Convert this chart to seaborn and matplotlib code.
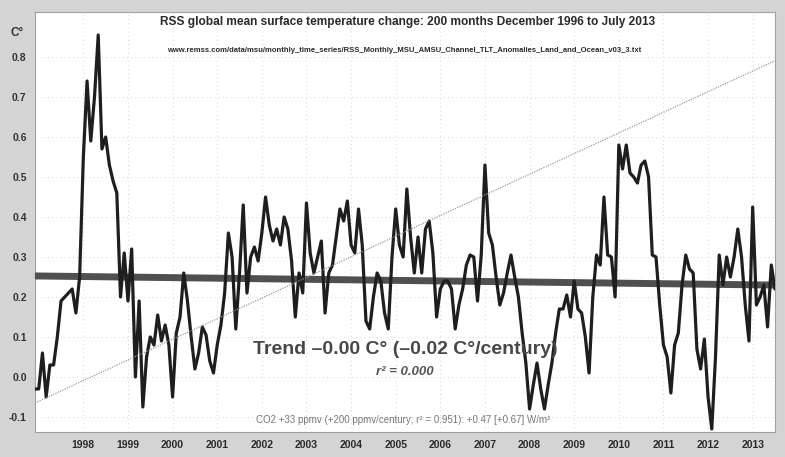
import numpy as np
import pandas as pd
import seaborn as sns
import matplotlib.pyplot as plt

# ---- data ----
start_month = "1996-12"
anomaly = [
    -0.03, -0.03, 0.06, -0.05, 0.03, 0.03, 0.10, 0.19, 0.20, 0.21,
    0.22, 0.16, 0.25, 0.55, 0.74, 0.59, 0.70, 0.855, 0.57, 0.60,
    0.53, 0.49, 0.46, 0.20, 0.31, 0.19, 0.32, 0.00, 0.19, -0.075,
    0.05, 0.10, 0.08, 0.155, 0.09, 0.13, 0.08, -0.05, 0.11, 0.15,
    0.26, 0.19, 0.10, 0.02, 0.06, 0.125, 0.105, 0.04, 0.01, 0.08,
    0.13, 0.21, 0.36, 0.30, 0.12, 0.26, 0.43, 0.21, 0.30, 0.325,
    0.29, 0.36, 0.45, 0.38, 0.34, 0.37, 0.33, 0.40, 0.37, 0.29,
    0.15, 0.26, 0.21, 0.435, 0.31, 0.26, 0.30, 0.34, 0.16, 0.26,
    0.28, 0.35, 0.42, 0.39, 0.44, 0.33, 0.31, 0.42, 0.33, 0.14,
    0.12, 0.20, 0.26, 0.24, 0.16, 0.12, 0.30, 0.42, 0.33, 0.30,
    0.47, 0.35, 0.26, 0.35, 0.26, 0.37, 0.39, 0.31, 0.15, 0.22,
    0.24, 0.24, 0.22, 0.12, 0.18, 0.22, 0.28, 0.305, 0.30, 0.19,
    0.305, 0.53, 0.36, 0.33, 0.25, 0.18, 0.21, 0.26, 0.305, 0.25,
    0.20, 0.11, 0.035, -0.08, -0.02, 0.035, -0.03, -0.08, -0.02, 0.035,
    0.11, 0.17, 0.17, 0.205, 0.15, 0.24, 0.17, 0.16, 0.10, 0.01,
    0.20, 0.305, 0.28, 0.45, 0.305, 0.30, 0.20, 0.58, 0.52, 0.58,
    0.51, 0.50, 0.485, 0.53, 0.54, 0.50, 0.305, 0.30, 0.18, 0.08,
    0.05, -0.04, 0.08, 0.11, 0.23, 0.305, 0.27, 0.26, 0.07, 0.02,
    0.095, -0.05, -0.13, 0.05, 0.305, 0.23, 0.30, 0.25, 0.30, 0.37,
    0.30, 0.18, 0.09, 0.425, 0.18, 0.20, 0.23, 0.125, 0.28, 0.22,
]
co2_ppmv = [362.0, 395.0]          # CO2 at first and last month
y_ticks = [-0.1, 0.0, 0.1, 0.2, 0.3, 0.4, 0.5, 0.6, 0.7, 0.8]
first_labelled_year = 1998

title = "RSS global mean surface temperature change: 200 months December 1996 to July 2013"
source = "www.remss.com/data/msu/monthly_time_series/RSS_Monthly_MSU_AMSU_Channel_TLT_Anomalies_Land_and_Ocean_v03_3.txt"
trend_text = "Trend \u20130.00 C\u00b0 (\u20130.02 C\u00b0/century)"
r2_text = "r\u00b2 = 0.000"
co2_text = "CO2 +33 ppmv (+200 ppmv/century; r\u00b2 = 0.951): +0.47 [+0.67] W/m\u00b2"

# ---- derived frame ----
periods = pd.period_range(start_month, periods=len(anomaly), freq="M")
df = pd.DataFrame({"idx": np.arange(len(anomaly)), "anomaly": anomaly})
slope, icpt = np.polyfit(df["idx"], df["anomaly"], 1)
df["trend"] = icpt + slope * df["idx"]
jan_idx = [i for i, p in enumerate(periods)
           if p.month == 1 and p.year >= first_labelled_year]
jan_lab = [str(periods[i].year) for i in jan_idx]
co2_df = pd.DataFrame({"idx": [0, len(anomaly) - 1], "co2": co2_ppmv})

sns.set_theme(style="white")
plt.rcParams["font.family"] = ["Liberation Sans", "DejaVu Sans"]

W, H = 785, 457
fig = plt.figure(figsize=(W / 100, H / 100), dpi=100, facecolor="#d4d4d4")
ax = fig.add_axes([35 / W, 25 / H, 740 / W, 420 / H])
ax.set_facecolor("white")

# CO2 line on hidden twin axis
ax2 = ax.twinx()
sns.lineplot(data=co2_df, x="idx", y="co2", ax=ax2, color="#9a9a9a",
             lw=0.9, linestyle=(0, (1, 1)))
ax2.set_ylim(359.2, 399.7)
ax2.set_yticks([])
ax2.set_ylabel("")
for s in ax2.spines.values():
    s.set_visible(False)

sns.lineplot(data=df, x="idx", y="trend", ax=ax, color="#505050", lw=5.0, zorder=3)
sns.lineplot(data=df, x="idx", y="anomaly", ax=ax, color="#1e1e1e", lw=2.3, zorder=4)

ax.set_xlim(0, len(anomaly) - 1)
ax.set_ylim(-0.1375, 0.9125)
ax.set_xlabel("")
ax.set_ylabel("")
ax.set_yticks(y_ticks)
ax.set_yticklabels([f"{v:.1f}" for v in y_ticks], fontsize=7.5,
                   fontweight="bold", color="#333333")
ax.set_xticks(jan_idx)
ax.set_xticklabels(jan_lab, fontsize=7.5, fontweight="bold", color="#2a2a2a")
ax.tick_params(axis="both", length=0)
ax.tick_params(axis="x", pad=6)
ax.tick_params(axis="y", pad=6)
ax.grid(True, color="#c8c8c8", lw=0.6, linestyle=(0, (1, 4)))
for s in ax.spines.values():
    s.set_color("#a0a0a0")
    s.set_linestyle((0, (1, 1)))
    s.set_linewidth(0.8)

fig.text(17 / W, 1 - 33 / H, "C\u00b0", fontsize=8.5, fontweight="bold",
         color="#333333", ha="center", va="center")
fig.text(408 / W, 1 - 22 / H, title, fontsize=8.6, fontweight="bold",
         color="#2a2a2a", ha="center", va="center")
fig.text(404 / W, 1 - 51 / H, source, fontsize=5.5, fontweight="bold",
         color="#2a2a2a", ha="center", va="center")
fig.text(405 / W, 1 - 350 / H, trend_text, fontsize=14, fontweight="bold",
         color="#474747", ha="center", va="center")
fig.text(405 / W, 1 - 372 / H, r2_text, fontsize=9.5, fontstyle="italic",
         fontweight="bold", color="#555555", ha="center", va="center")
fig.text(403 / W, 1 - 420 / H, co2_text, fontsize=7.0, color="#777777",
         ha="center", va="center")

fig.savefig("out.png", dpi=100, facecolor=fig.get_facecolor())
